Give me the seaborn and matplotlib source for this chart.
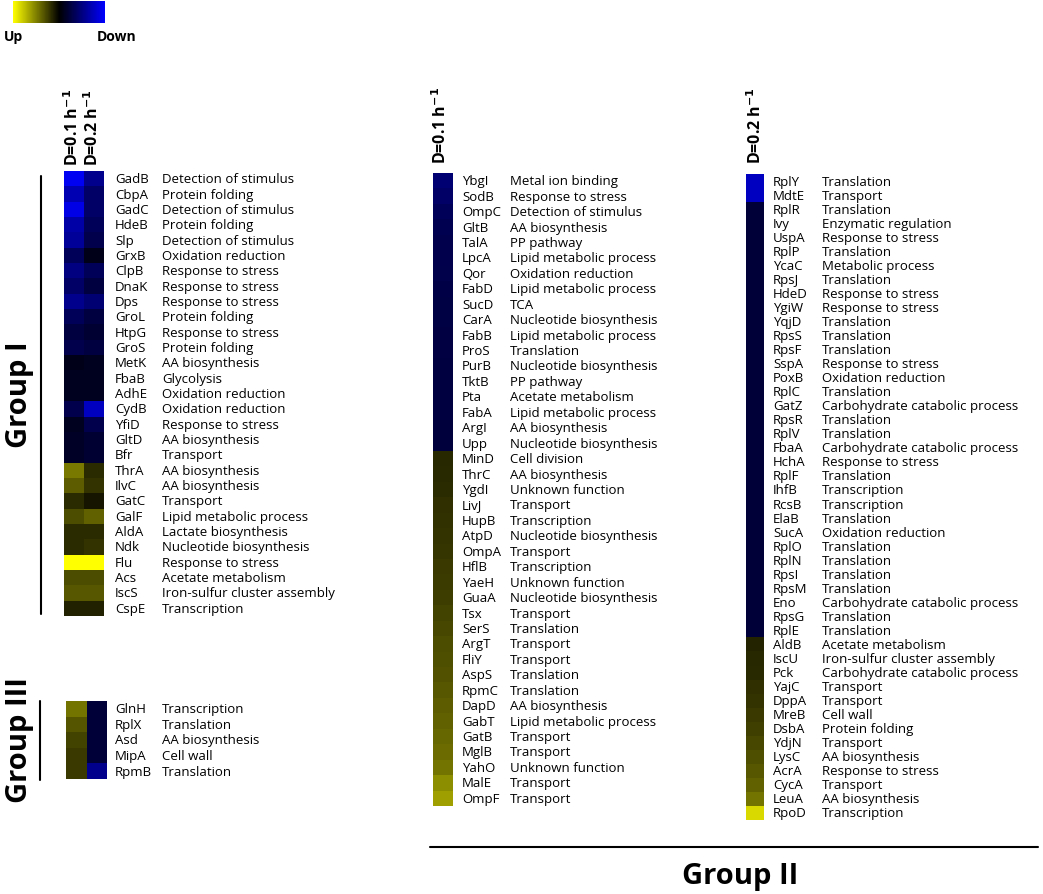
import numpy as np
import pandas as pd
import matplotlib
matplotlib.use('Agg')
import matplotlib.pyplot as plt
import matplotlib as mpl
from matplotlib.colors import LinearSegmentedColormap, Normalize
from matplotlib.transforms import blended_transform_factory
import seaborn as sns

sns.set_style('white')
plt.rcParams['font.family'] = ['Open Sans', 'DejaVu Sans']
plt.rcParams['text.color'] = 'black'

# values: positive = down (blue), negative = up (yellow)
g1_genes = ['GadB', 'CbpA', 'GadC', 'HdeB', 'Slp', 'GrxB', 'ClpB', 'DnaK', 'Dps', 'GroL',
            'HtpG', 'GroS', 'MetK', 'FbaB', 'AdhE', 'CydB', 'YfiD', 'GltD', 'Bfr', 'ThrA',
            'IlvC', 'GatC', 'GalF', 'AldA', 'Ndk', 'Flu', 'Acs', 'IscS', 'CspE']
g1_funcs = ['Detection of stimulus', 'Protein folding', 'Detection of stimulus', 'Protein folding',
            'Detection of stimulus', 'Oxidation reduction', 'Response to stress', 'Response to stress',
            'Response to stress', 'Protein folding', 'Response to stress', 'Protein folding',
            'AA biosynthesis', 'Glycolysis', 'Oxidation reduction', 'Oxidation reduction',
            'Response to stress', 'AA biosynthesis', 'Transport', 'AA biosynthesis', 'AA biosynthesis',
            'Transport', 'Lipid metabolic process', 'Lactate biosynthesis', 'Nucleotide biosynthesis',
            'Response to stress', 'Acetate metabolism', 'Iron-sulfur cluster assembly', 'Transcription']
g1_d01 = [0.95, 0.7, 0.9, 0.65, 0.6, 0.35, 0.5, 0.4, 0.55, 0.35, 0.25, 0.3, 0.1, 0.12, 0.12,
          0.3, 0.12, 0.15, 0.15, -0.47, -0.36, -0.17, -0.3, -0.17, -0.17, -1.0, -0.3, -0.34, -0.13]
g1_d02 = [0.55, 0.4, 0.4, 0.35, 0.3, 0.1, 0.35, 0.25, 0.45, 0.25, 0.2, 0.25, 0.12, 0.12, 0.12,
          0.75, 0.3, 0.2, 0.2, -0.17, -0.2, -0.08, -0.38, -0.17, -0.2, -1.0, -0.3, -0.34, -0.13]

g3_genes = ['GlnH', 'RplX', 'Asd', 'MipA', 'RpmB']
g3_funcs = ['Transcription', 'Translation', 'AA biosynthesis', 'Cell wall', 'Translation']
g3_d01 = [-0.45, -0.33, -0.26, -0.22, -0.22]
g3_d02 = [0.22, 0.22, 0.22, 0.22, 0.55]

g2a_genes = ['YbgI', 'SodB', 'OmpC', 'GltB', 'TalA', 'LpcA', 'Qor', 'FabD', 'SucD', 'CarA',
             'FabB', 'ProS', 'PurB', 'TktB', 'Pta', 'FabA', 'ArgI', 'Upp', 'MinD', 'ThrC',
             'YgdI', 'LivJ', 'HupB', 'AtpD', 'OmpA', 'HflB', 'YaeH', 'GuaA', 'Tsx', 'SerS',
             'ArgT', 'FliY', 'AspS', 'RpmC', 'DapD', 'GabT', 'GatB', 'MglB', 'YahO', 'MalE', 'OmpF']
g2a_funcs = ['Metal ion binding', 'Response to stress', 'Detection of stimulus', 'AA biosynthesis',
             'PP pathway', 'Lipid metabolic process', 'Oxidation reduction', 'Lipid metabolic process',
             'TCA', 'Nucleotide biosynthesis', 'Lipid metabolic process', 'Translation',
             'Nucleotide biosynthesis', 'PP pathway', 'Acetate metabolism', 'Lipid metabolic process',
             'AA biosynthesis', 'Nucleotide biosynthesis', 'Cell division', 'AA biosynthesis',
             'Unknown function', 'Transport', 'Transcription', 'Nucleotide biosynthesis', 'Transport',
             'Transcription', 'Unknown function', 'Nucleotide biosynthesis', 'Transport', 'Translation',
             'Transport', 'Transport', 'Translation', 'Translation', 'AA biosynthesis',
             'Lipid metabolic process', 'Transport', 'Transport', 'Unknown function', 'Transport', 'Transport']
g2a_d01 = [0.45, 0.4, 0.35, 0.32, 0.3, 0.3, 0.29, 0.28, 0.27, 0.27, 0.26, 0.26, 0.25, 0.25,
           0.25, 0.25, 0.24, 0.24, -0.15, -0.16, -0.17, -0.18, -0.19, -0.2, -0.21, -0.22,
           -0.23, -0.24, -0.26, -0.28, -0.3, -0.31, -0.32, -0.34, -0.36, -0.38, -0.4, -0.42,
           -0.45, -0.55, -0.62]

g2b_genes = ['RplY', 'MdtE', 'RplR', 'Ivy', 'UspA', 'RplP', 'YcaC', 'RpsJ', 'HdeD', 'YgiW',
             'YqjD', 'RpsS', 'RpsF', 'SspA', 'PoxB', 'RplC', 'GatZ', 'RpsR', 'RplV', 'FbaA',
             'HchA', 'RplF', 'IhfB', 'RcsB', 'ElaB', 'SucA', 'RplO', 'RplN', 'RpsI', 'RpsM',
             'Eno', 'RpsG', 'RplE', 'AldB', 'IscU', 'Pck', 'YajC', 'DppA', 'MreB', 'DsbA',
             'YdjN', 'LysC', 'AcrA', 'CycA', 'LeuA', 'RpoD']
g2b_funcs = ['Translation', 'Transport', 'Translation', 'Enzymatic regulation', 'Response to stress',
             'Translation', 'Metabolic process', 'Translation', 'Response to stress', 'Response to stress',
             'Translation', 'Translation', 'Translation', 'Response to stress', 'Oxidation reduction',
             'Translation', 'Carbohydrate catabolic process', 'Translation', 'Translation',
             'Carbohydrate catabolic process', 'Response to stress', 'Translation', 'Transcription',
             'Transcription', 'Translation', 'Oxidation reduction', 'Translation', 'Translation',
             'Translation', 'Translation', 'Carbohydrate catabolic process', 'Translation', 'Translation',
             'Acetate metabolism', 'Iron-sulfur cluster assembly', 'Carbohydrate catabolic process',
             'Transport', 'Transport', 'Cell wall', 'Protein folding', 'Transport', 'AA biosynthesis',
             'Response to stress', 'Transport', 'AA biosynthesis', 'Transcription']
g2b_d02 = [0.75, 0.75] + [0.22] * 31 + [-0.14, -0.15, -0.16, -0.18, -0.2, -0.22, -0.25,
                                         -0.28, -0.31, -0.34, -0.38, -0.45, -0.85]

W, H = 1043, 895
fig = plt.figure(figsize=(W / 100, H / 100), dpi=100)


def box(x0, y0, x1, y1):
    return [x0 / W, 1 - y1 / H, (x1 - x0) / W, (y1 - y0) / H]


cmap = LinearSegmentedColormap.from_list('yb', ['#ffff00', '#000000', '#0000ff'])


def draw_block(rect, df, genes, funcs, gene_x, func_x, fs):
    ax = fig.add_axes(box(*rect))
    sns.heatmap(df, ax=ax, cmap=cmap, vmin=-1, vmax=1, cbar=False,
                xticklabels=False, yticklabels=False)
    tr = blended_transform_factory(fig.transFigure, ax.transData)
    for i, (g, f) in enumerate(zip(genes, funcs)):
        ax.text(gene_x / W, i + 0.5, g, transform=tr, va='center', ha='left', fontsize=fs)
        ax.text(func_x / W, i + 0.5, f, transform=tr, va='center', ha='left', fontsize=fs)
    return ax


def header(x, y, s):
    fig.text(x / W, 1 - y / H, s, rotation=90, ha='center', va='bottom',
             fontsize=11.5, fontweight='bold')


def vline(x, y0, y1):
    fig.add_artist(plt.Line2D([x / W, x / W], [1 - y0 / H, 1 - y1 / H], color='black', lw=1.5))


# colour key
cax = fig.add_axes(box(13, 2, 105, 24))
cb = mpl.colorbar.ColorbarBase(cax, cmap=cmap, norm=Normalize(-1, 1), orientation='horizontal')
cb.set_ticks([])
cb.outline.set_visible(False)
fig.text(4 / W, 1 - 37 / H, 'Up', fontsize=10, fontweight='bold', va='center')
fig.text(97 / W, 1 - 37 / H, 'Down', fontsize=10, fontweight='bold', va='center')

# Group I
df1 = pd.DataFrame({'D=0.1': g1_d01, 'D=0.2': g1_d02}, index=g1_genes)
draw_block((64, 172, 104, 617), df1, g1_genes, g1_funcs, 115, 162, 9.5)
header(73, 166, 'D=0.1 h$^{\\mathbf{-1}}$')
header(93, 166, 'D=0.2 h$^{\\mathbf{-1}}$')
vline(41, 177, 615)
fig.text(20 / W, 1 - 395 / H, 'Group I', rotation=90, ha='center', va='center',
         fontsize=21, fontweight='bold')

# Group III
df3 = pd.DataFrame({'D=0.1': g3_d01, 'D=0.2': g3_d02}, index=g3_genes)
draw_block((66, 702, 107, 780), df3, g3_genes, g3_funcs, 115, 162, 9.5)
vline(40, 702, 781)
fig.text(20 / W, 1 - 740 / H, 'Group III', rotation=90, ha='center', va='center',
         fontsize=21, fontweight='bold')

# Group II, D=0.1
df2a = pd.DataFrame({'D=0.1': g2a_d01}, index=g2a_genes)
draw_block((433, 174, 453, 807), df2a, g2a_genes, g2a_funcs, 462, 510, 9.5)
header(441, 164, 'D=0.1 h$^{\\mathbf{-1}}$')

# Group II, D=0.2
df2b = pd.DataFrame({'D=0.2': g2b_d02}, index=g2b_genes)
draw_block((746, 175, 764, 821), df2b, g2b_genes, g2b_funcs, 773, 822, 9.5)
header(756, 164, 'D=0.2 h$^{\\mathbf{-1}}$')

fig.add_artist(plt.Line2D([430 / W, 1038 / W], [1 - 848 / H, 1 - 848 / H], color='black', lw=1.5))
fig.text(740 / W, 1 - 877 / H, 'Group II', ha='center', va='center', fontsize=21, fontweight='bold')

fig.savefig('out.png', dpi=100)
